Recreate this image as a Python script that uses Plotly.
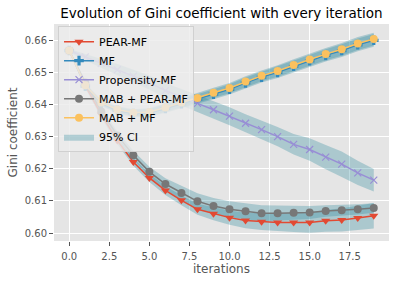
import plotly.graph_objects as go

iterations = list(range(20))

pear_mf = [0.657, 0.646, 0.637, 0.6289, 0.6222, 0.6172, 0.6133, 0.6102, 0.6074, 0.6060,
           0.6048, 0.6039, 0.6035, 0.6033, 0.6033, 0.6033, 0.6038, 0.6041, 0.6047, 0.6054]
mf = [0.657, 0.6459, 0.6405, 0.6383, 0.6373, 0.6375, 0.6389, 0.6404, 0.6418, 0.6434,
      0.6449, 0.6469, 0.6487, 0.6502, 0.6521, 0.6538, 0.6555, 0.6570, 0.6588, 0.6602]
propensity_mf = [0.657, 0.655, 0.653, 0.651, 0.649, 0.647, 0.6445, 0.6424, 0.6405, 0.6385,
                 0.6365, 0.6343, 0.6323, 0.6301, 0.6277, 0.6261, 0.6237, 0.6215, 0.6188, 0.6165]
mab_pear_mf = [0.657, 0.647, 0.638, 0.6305, 0.6243, 0.6191, 0.6153, 0.6125, 0.6099, 0.6084,
               0.6074, 0.6068, 0.6062, 0.6062, 0.6063, 0.6064, 0.6069, 0.6071, 0.6074, 0.6078]
mab_mf = [0.657, 0.6462, 0.6408, 0.6386, 0.6376, 0.6378, 0.6392, 0.6408, 0.6422, 0.6438,
          0.6453, 0.6473, 0.6491, 0.6506, 0.6525, 0.6542, 0.6559, 0.6574, 0.6592, 0.6606]

# 95% CI half widths
pear_mf_ci = [0.0003, 0.0008, 0.001, 0.0011, 0.0012, 0.0013, 0.0014, 0.0015, 0.0017, 0.002,
              0.0022, 0.0024, 0.0026, 0.0028, 0.003, 0.0032, 0.0034, 0.0036, 0.0038, 0.004]
mf_ci = [0.0003, 0.0006, 0.0008, 0.001, 0.0011, 0.0012, 0.0013, 0.0014, 0.0015, 0.0016,
         0.0016, 0.0017, 0.0017, 0.0018, 0.0018, 0.0019, 0.0019, 0.002, 0.002, 0.002]
propensity_mf_ci = [0.0005, 0.001, 0.0014, 0.0018, 0.002, 0.0022, 0.0024, 0.0026, 0.0027, 0.0028,
                    0.0028, 0.0028, 0.0029, 0.003, 0.0032, 0.0035, 0.0038, 0.004, 0.0038, 0.0035]
mab_pear_mf_ci = [0.0003, 0.0008, 0.001, 0.0012, 0.0014, 0.0016, 0.0018, 0.0022, 0.0025, 0.0025,
                  0.0025, 0.0025, 0.0025, 0.0024, 0.0022, 0.002, 0.0018, 0.0017, 0.0016, 0.0015]
mab_mf_ci = [0.0003, 0.0006, 0.0008, 0.001, 0.0011, 0.0012, 0.0013, 0.0014, 0.0015, 0.0016,
             0.0016, 0.0017, 0.0017, 0.0018, 0.0018, 0.0019, 0.0019, 0.002, 0.002, 0.002]

x_ticks = [0, 2.5, 5, 7.5, 10, 12.5, 15, 17.5]
y_ticks = [0.60, 0.61, 0.62, 0.63, 0.64, 0.65, 0.66]

series = [
    ("PEAR-MF", pear_mf, pear_mf_ci, "#E24A33", "triangle-down", 8),
    ("MF", mf, mf_ci, "#348ABD", "cross", 8),
    ("Propensity-MF", propensity_mf, propensity_mf_ci, "#988ED5", "x-thin", 7),
    ("MAB + PEAR-MF", mab_pear_mf, mab_pear_mf_ci, "#777777", "circle", 8),
    ("MAB + MF", mab_mf, mab_mf_ci, "#FBC15E", "circle", 8),
]

band_color = "rgba(50,140,160,0.32)"

fig = go.Figure()

for i, (name, y, ci, color, sym, ms) in enumerate(series):
    upper = [a + b for a, b in zip(y, ci)]
    lower = [a - b for a, b in zip(y, ci)]
    fig.add_trace(go.Scatter(
        x=iterations + iterations[::-1], y=upper + lower[::-1],
        fill="toself", fillcolor=band_color, line=dict(width=0),
        mode="lines", hoverinfo="skip",
        name="95% CI", showlegend=(i == 0), legendrank=2000,
    ))

for i, (name, y, ci, color, sym, ms) in enumerate(series):
    marker = dict(symbol=sym, size=ms, color=color)
    if sym == "x-thin":
        marker["line"] = dict(color=color, width=1.2)
    fig.add_trace(go.Scatter(
        x=iterations, y=y, mode="lines+markers", name=name,
        line=dict(color=color, width=1.5), marker=marker,
        legendrank=1000 + i,
    ))

axis_common = dict(
    showgrid=True, gridcolor="white", gridwidth=1,
    zeroline=False, showline=False, automargin=False,
    ticks="outside", ticklen=4, tickcolor="#555555", tickwidth=1,
    tickfont=dict(family="DejaVu Sans", size=10, color="#555555"),
)

fig.update_layout(
    width=400, height=282,
    margin=dict(l=54, r=11, t=24, b=41),
    paper_bgcolor="white", plot_bgcolor="#E5E5E5",
    font=dict(family="DejaVu Sans", color="#555555"),
    title=dict(text="Evolution of Gini coefficient with every iteration",
               x=0.5535, xanchor="center", y=0.952, yanchor="middle",
               font=dict(family="DejaVu Sans", size=13.5, color="black")),
    xaxis=dict(range=[-0.95, 19.95], tickvals=x_ticks, tickformat=".1f",
               ticklabelstandoff=2,
               title=dict(text="iterations", font=dict(size=12, color="#555555"), standoff=3),
               **axis_common),
    yaxis=dict(range=[0.5975, 0.6653], tickvals=y_ticks, tickformat=".2f",
               title=dict(text="Gini coefficient", font=dict(size=12, color="#555555"), standoff=4),
               **axis_common),
    legend=dict(x=0.012, y=0.99, xanchor="left", yanchor="top",
                bgcolor="rgba(236,236,236,0.82)", bordercolor="#d0d0d0", borderwidth=1,
                font=dict(family="DejaVu Sans", size=11, color="black"),
                itemwidth=30, tracegroupgap=0),
    showlegend=True,
)

fig.write_html("out.html", config={"displayModeBar": False},
               post_script="document.body.style.margin='0';")
